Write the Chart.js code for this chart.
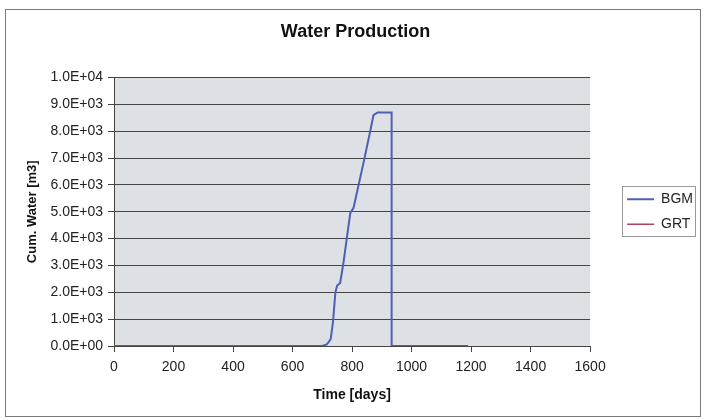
<!DOCTYPE html>
<html>
<head>
<meta charset="utf-8">
<title>Water Production</title>
<script src="https://cdn.jsdelivr.net/npm/chart.js@4.4.1/dist/chart.umd.min.js"></script>
<style>
  html, body { margin: 0; padding: 0; background: #fff; }
  #wrap { width: 709px; height: 420px; }
</style>
</head>
<body>
<div id="wrap"><canvas id="chart"></canvas></div>
<script>
'use strict';
// cumulative water, BGM run
const bgmDays  = [0, 200, 400, 600, 700, 715, 728, 736, 744, 750, 760, 771, 794, 805, 839, 861, 872, 886, 933, 933, 1190];
const bgmWater = [0, 0, 0, 0, 0, 60, 250, 900, 2000, 2250, 2350, 3100, 4950, 5150, 6850, 8000, 8600, 8700, 8700, 0, 0];
// GRT run - nothing plotted
const grtDays  = [];
const grtWater = [];

const seriesNames = ['BGM', 'GRT'];
const xTickValues = [0, 200, 400, 600, 800, 1000, 1200, 1400, 1600];
const yTickValues = [0, 1000, 2000, 3000, 4000, 5000, 6000, 7000, 8000, 9000, 10000];

// 1.0E+04 style labels
function sci(v) {
    if (v === 0) return '0.0E+00';
    const e = Math.floor(Math.log10(v));
    const m = v / Math.pow(10, e);
    return m.toFixed(1) + 'E+' + String(e).padStart(2, '0');
}

const toPoints = (xs, ys) => xs.map((x, i) => ({ x: x, y: ys[i] }));

Chart.defaults.font.family = '"Liberation Sans", Arial, sans-serif';
Chart.defaults.color = '#222';

// gray plot area + outer frame + legend frame
const frames = {
    id: 'frames',
    beforeDraw(chart) {
        const { ctx, chartArea: a } = chart;
        ctx.save();
        ctx.fillStyle = '#dde0e4';
        ctx.fillRect(a.left, a.top, a.right - a.left, a.bottom - a.top);
        ctx.restore();
    },
    afterDraw(chart) {
        const ctx = chart.ctx;
        ctx.save();
        ctx.strokeStyle = '#7a7a7a';
        ctx.lineWidth = 1;
        ctx.strokeRect(5.5, 9.5, 695, 407);
        const hb = chart.legend.legendHitBoxes;
        if (hb && hb.length) {
            const l = Math.min(...hb.map(h => h.left)) - 5;
            const r = Math.max(...hb.map(h => h.left + h.width)) + 2;
            const t = Math.min(...hb.map(h => h.top)) - 6;
            const b = Math.max(...hb.map(h => h.top + h.height)) + 5;
            ctx.strokeStyle = '#999';
            ctx.strokeRect(Math.round(l) + 0.5, Math.round(t) + 0.5, Math.round(r - l), Math.round(b - t));
        }
        ctx.restore();
    }
};

new Chart(document.getElementById('chart'), {
    type: 'scatter',
    data: {
        datasets: [{
            label: seriesNames[0],
            data: toPoints(bgmDays, bgmWater),
            showLine: true,
            borderColor: '#4f5fb5',
            borderWidth: 2,
            pointRadius: 0,
            pointStyle: 'line'
        }, {
            label: seriesNames[1],
            data: toPoints(grtDays, grtWater),
            showLine: true,
            borderColor: '#b0405e',
            borderWidth: 1.5,
            pointRadius: 0,
            pointStyle: 'line'
        }]
    },
    options: {
        responsive: true,
        maintainAspectRatio: false,
        animation: false,
        layout: { padding: { left: 8, right: 6, top: 8, bottom: 8 } },
        plugins: {
            title: {
                display: true,
                text: 'Water Production',
                color: '#111',
                font: { size: 18, weight: 'bold' },
                padding: { top: 13, bottom: 35 }
            },
            legend: {
                position: 'right',
                fullSize: false,
                labels: {
                    usePointStyle: true,
                    pointStyle: 'line',
                    pointStyleWidth: 27,
                    padding: 11,
                    color: '#222',
                    font: { size: 14 }
                }
            },
            tooltip: { enabled: false }
        },
        scales: {
            x: {
                type: 'linear',
                min: 0,
                max: 1600,
                afterBuildTicks: s => { s.ticks = xTickValues.map(v => ({ value: v })); },
                afterFit: s => { s.height = 66; },
                grid: { drawOnChartArea: false, drawTicks: true, tickLength: 6, color: '#444' },
                border: { color: '#444' },
                ticks: { padding: 7, maxRotation: 0, font: { size: 14 }, color: '#222', callback: v => String(v) },
                title: {
                    display: true,
                    text: 'Time [days]',
                    color: '#111',
                    font: { size: 14, weight: 'bold' },
                    padding: { top: 4, bottom: 8 }
                }
            },
            y: {
                type: 'linear',
                min: 0,
                max: 10000,
                afterBuildTicks: s => { s.ticks = yTickValues.map(v => ({ value: v })); },
                afterFit: s => { s.width = 106; },
                grid: { color: '#444', tickLength: 6 },
                border: { color: '#444' },
                ticks: { padding: 5, font: { size: 14 }, color: '#222', callback: v => sci(v) },
                title: {
                    display: true,
                    text: 'Cum. Water [m3]',
                    color: '#111',
                    font: { size: 13, weight: 'bold' },
                    padding: { top: 17, bottom: 0 }
                }
            },
            // empty axis that keeps the legend away from the plot
            gap: {
                type: 'linear',
                position: 'right',
                display: true,
                grid: { display: false },
                border: { display: false },
                ticks: { display: false },
                afterFit: s => { s.width = 26; }
            }
        }
    },
    plugins: [frames]
});
</script>
</body>
</html>
